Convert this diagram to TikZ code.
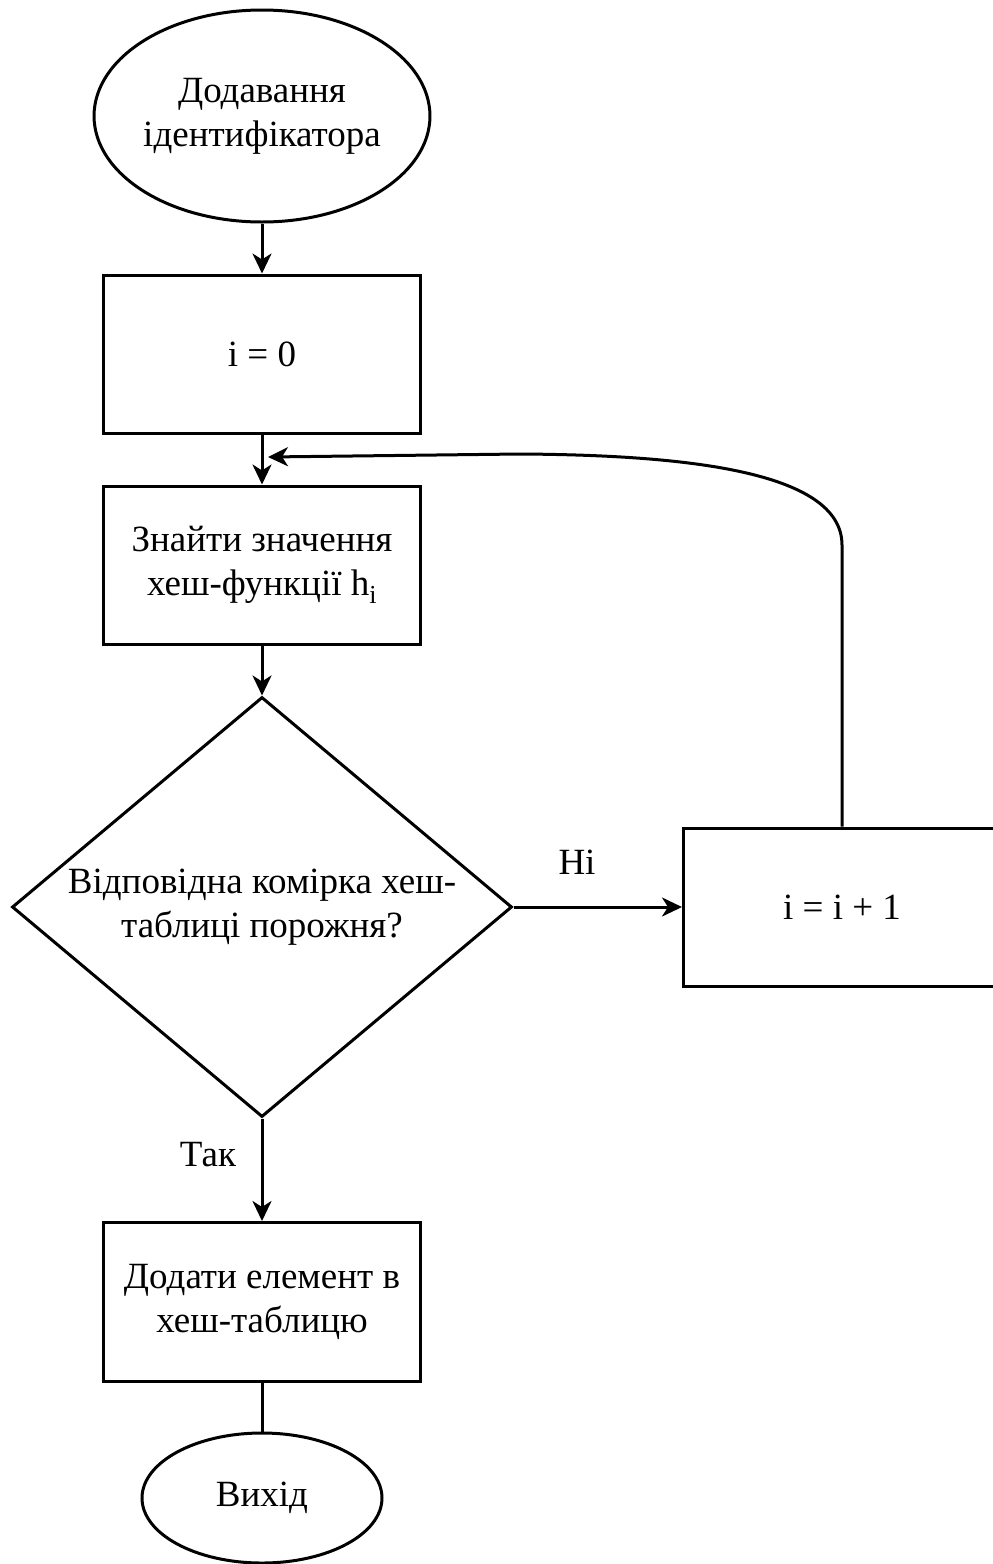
\documentclass[tikz,border=0pt]{standalone}
\usepackage{fontspec}
\newfontfamily\flowfont{Liberation Serif}
\usetikzlibrary{shapes.geometric,arrows.meta}
\begin{document}
\begin{tikzpicture}[x=1pt,y=-1pt,
  every node/.style={font=\flowfont\fontsize{37}{44}\selectfont},
  flow/.style={line width=3pt, draw=black},
  arrow/.style={flow, -{Stealth[length=20pt,width=19pt,inset=6pt]}},
  term/.style={ellipse, flow, inner sep=0pt, align=center},
  box/.style={rectangle, flow, minimum width=317pt, minimum height=158pt, inner sep=0pt, align=center},
  choice/.style={diamond, flow, aspect=1.19, inner sep=0pt, minimum width=500pt, minimum height=420pt, align=center},
  lbl/.style={inner sep=0pt}
  ]
  \clip (0,0) rectangle (993,1564);

  % nodes of the flowchart
  \node[term, minimum width=320pt, minimum height=212pt] (start) at (262,116) {Додавання\\ідентифікатора};
  \node[box] (init) at (262,354) {i = 0};
  \node[box] (find) at (262,565) {Знайти значення\\хеш-функції h\textsubscript{i}};
  \node[choice] (check) at (262,907) {Відповідна комірка хеш-\\таблиці порожня?};
  \node[box] (inc) at (842,907) {i = i + 1};
  \node[box, minimum height=159pt] (add) at (262,1302) {Додати елемент в\\хеш-таблицю};
  \node[term, minimum width=240pt, minimum height=130pt] (exit) at (262,1498) {Вихід};

  % branch labels
  \node[lbl] (no) at (577,862) {Ні};
  \node[lbl] (yes) at (208,1155) {Так};

  % points of the loop-back connector
  \coordinate (bendA) at (842,545);
  \coordinate (bendB) at (520,454);
  \coordinate (loopin) at (268,457);

  % connectors
  \draw[arrow] (start) -- (init);
  \draw[arrow] (init) -- (find);
  \draw[arrow] (find) -- (check);
  \draw[arrow] (check) -- (inc);
  \draw[arrow] (check) -- (add);
  \draw[flow] (add) -- (exit);
  \draw[arrow] (inc.north) -- (bendA) .. controls (842,470) and (680,455) .. (bendB) -- (loopin);
\end{tikzpicture}
\end{document}
